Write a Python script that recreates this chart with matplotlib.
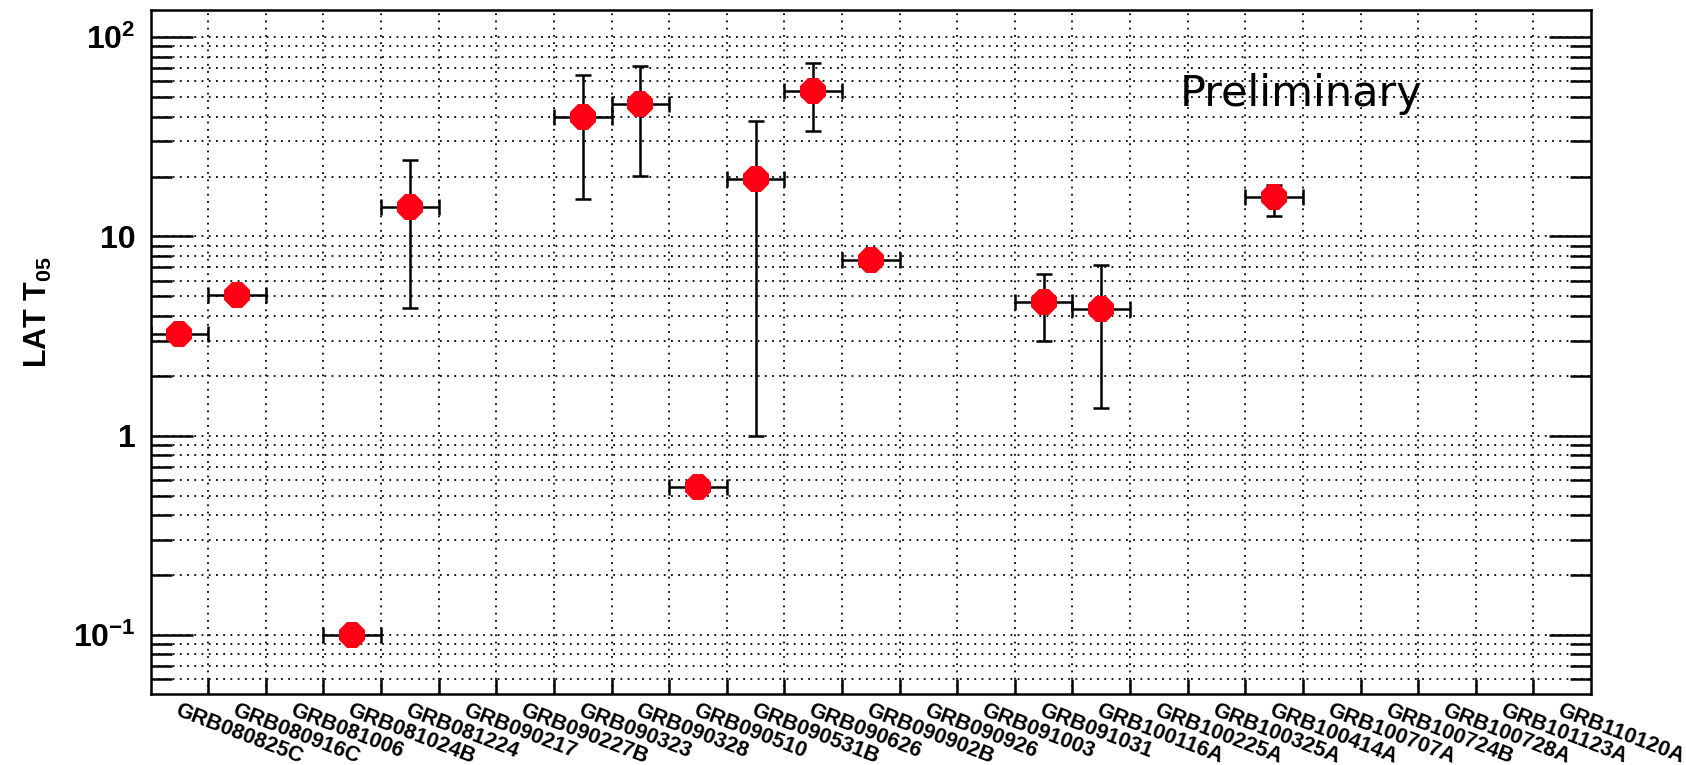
import numpy as np
import matplotlib
matplotlib.use("Agg")
import matplotlib.pyplot as plt
from matplotlib.ticker import LogLocator, FixedLocator, FixedFormatter, NullFormatter

plt.rcParams["font.family"] = ["Liberation Sans", "DejaVu Sans"]
plt.rcParams["mathtext.fontset"] = "custom"
plt.rcParams["mathtext.rm"] = "Liberation Sans:bold"
plt.rcParams["mathtext.bf"] = "Liberation Sans:bold"
plt.rcParams["mathtext.it"] = "Liberation Sans:bold"

# ---- data ----
grb_names = ["GRB080825C", "GRB080916C", "GRB081006", "GRB081024B", "GRB081224",
             "GRB090217", "GRB090227B", "GRB090323", "GRB090328", "GRB090510",
             "GRB090531B", "GRB090626", "GRB090902B", "GRB090926", "GRB091003",
             "GRB091031", "GRB100116A", "GRB100225A", "GRB100325A", "GRB100414A",
             "GRB100707A", "GRB100724B", "GRB100728A", "GRB101123A", "GRB110120A"]
nan = np.nan
t05 = [3.25, 5.1, nan, 0.1, 14.1, nan, nan, 40.0, 46.0, 0.55,
       19.4, 54.0, 7.6, nan, nan, 4.67, 4.33, nan, nan, 15.8,
       nan, nan, nan, nan, nan]
t05_upper = [nan, nan, nan, nan, 24.1, nan, nan, 65.0, 72.0, nan,
             38.0, 74.0, nan, nan, nan, 6.5, 7.2, nan, nan, 18.2,
             nan, nan, nan, nan, nan]
t05_lower = [nan, nan, nan, nan, 4.37, nan, nan, 15.4, 20.1, nan,
             1.0, 34.0, nan, nan, nan, 3.0, 1.37, nan, nan, 12.7,
             nan, nan, nan, nan, nan]

RED = "#ff0015"

x = np.arange(len(grb_names))
y = np.array(t05)
hi = np.array(t05_upper)
lo = np.array(t05_lower)
ok = ~np.isnan(y)
err_hi = np.where(np.isnan(hi), 0, hi - y)[ok]
err_lo = np.where(np.isnan(lo), 0, y - lo)[ok]

fig = plt.figure(figsize=(16.86, 7.65), dpi=100)
ax = fig.add_axes([0.0893, 0.0928, 0.8544, 0.8941])

ax.errorbar(x[ok], y[ok], xerr=0.5, yerr=[err_lo, err_hi], fmt="none",
            ecolor="black", elinewidth=1.8, capsize=6, capthick=1.8, zorder=3)
ax.plot(x[ok], y[ok], "8", color=RED, markersize=20, markeredgewidth=0, zorder=4)

ax.set_yscale("log")
ax.set_ylim(0.0505, 137)
ax.set_xlim(-0.5, len(grb_names) - 0.5)

# y ticks
ax.yaxis.set_major_locator(FixedLocator([0.1, 1, 10, 100]))
ax.yaxis.set_major_formatter(FixedFormatter([r"$10^{-1}$", "1", "10", r"$10^{2}$"]))
ax.yaxis.set_minor_locator(LogLocator(base=10, subs=np.arange(2, 10)))
ax.yaxis.set_minor_formatter(NullFormatter())

# x ticks at bin edges, names at bin centres
ax.set_xticks(np.arange(len(grb_names) - 1) + 0.5)
ax.set_xticklabels([])
ax.set_xticks(x, labels=grb_names, minor=True)
for lab in ax.get_xticklabels(minor=True):
    lab.set_rotation(-21)
    lab.set_ha("left")
    lab.set_va("top")
    lab.set_rotation_mode("anchor")
    lab.set_fontsize(15.5)
    lab.set_fontweight("bold")

ax.tick_params(axis="y", which="major", direction="in", length=30, width=1.8,
               left=True, right=True, labelsize=23, pad=11)
ax.tick_params(axis="y", which="minor", direction="in", length=15, width=1.8,
               left=True, right=True)
ax.tick_params(axis="x", which="major", direction="in", length=11, width=1.8,
               bottom=True, top=False)
ax.tick_params(axis="x", which="minor", length=0, pad=4)
for lab in ax.get_yticklabels():
    lab.set_fontweight("bold")

ax.grid(True, axis="x", which="major", color="black", linestyle=(0, (1, 3)), linewidth=1.3)
ax.grid(True, axis="y", which="both", color="black", linestyle=(0, (1, 3)), linewidth=1.3)
ax.set_axisbelow(True)

for sp in ax.spines.values():
    sp.set_linewidth(1.8)

fig.text(38 / 1686, 1 - 312 / 765, r"LAT T$_{05}$", rotation=90, ha="center", va="center",
         fontsize=22, fontweight="bold")

ax.text(0.799, 0.877, "Preliminary", transform=ax.transAxes, ha="center", va="center",
        fontsize=31, family="DejaVu Sans")

fig.savefig("out.png", dpi=100)
